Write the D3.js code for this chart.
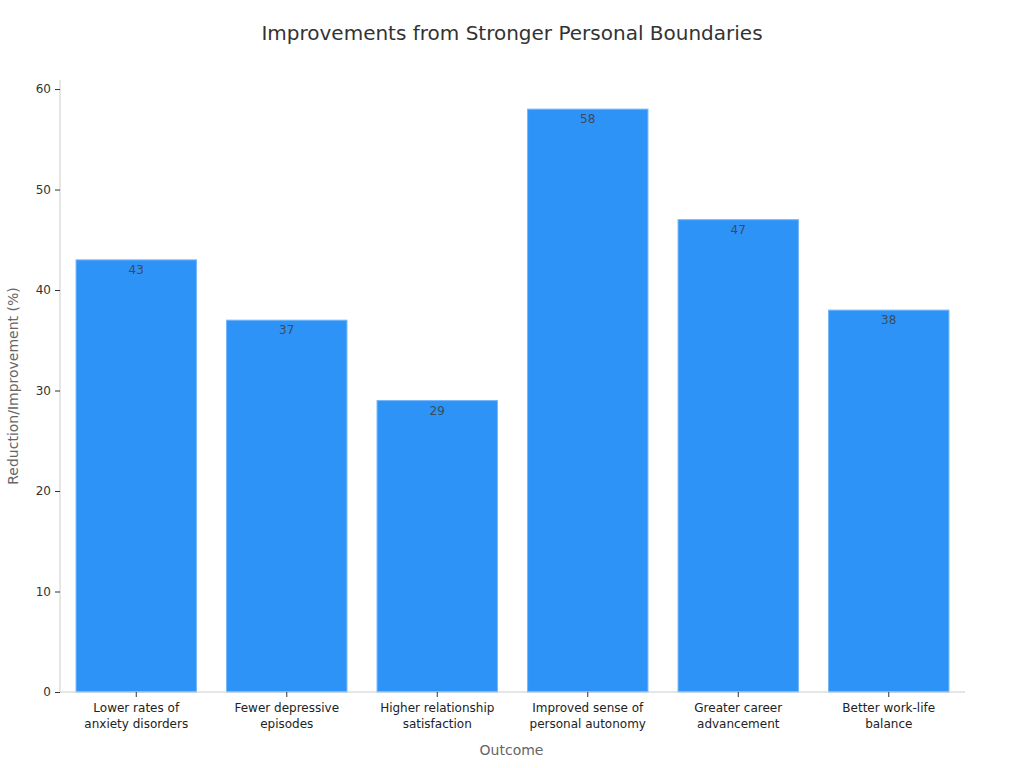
<!DOCTYPE html>
<html>
<head>
<meta charset="utf-8">
<script src="https://cdn.jsdelivr.net/npm/d3@7"></script>
<style>
body{margin:0;background:#fff;font-family:"DejaVu Sans",sans-serif;}
</style>
</head>
<body>
<svg id="chart"></svg>
<script>
const categories = [
    ["Lower rates of","anxiety disorders"],
    ["Fewer depressive","episodes"],
    ["Higher relationship","satisfaction"],
    ["Improved sense of","personal autonomy"],
    ["Greater career","advancement"],
    ["Better work-life","balance"]
];
const values = [43,37,29,58,47,38];
const yticks = [0,10,20,30,40,50,60];

const width = 1024, height = 768;
const margin = {top:80,right:61,bottom:76,left:60};
const inner_width = width-margin.left-margin.right;
const inner_height = height-margin.top-margin.bottom;

const svg = d3.select("#chart").attr("width",width).attr("height",height);

svg.append("text")
    .attr("x",512).attr("y",40)
    .attr("text-anchor","middle")
    .attr("font-size",20)
    .attr("fill","#333")
    .text("Improvements from Stronger Personal Boundaries");

const chart = svg.append("g")
    .attr("transform",`translate(${margin.left},${margin.top})`);

const keys = categories.map(c=>c.join(" "));
const xscale = d3.scaleBand().domain(keys).range([1,inner_width+1])
    .paddingInner(0.2).paddingOuter(0.1);
const yscale = d3.scaleLinear().domain([0,d3.max(values)*1.05]).range([inner_height,0]);

// bars
chart.selectAll("rect.bar")
    .data(values)
    .enter().append("rect")
    .attr("class","bar")
    .attr("x",(d,i)=>xscale(keys[i]))
    .attr("y",d=>yscale(d))
    .attr("width",xscale.bandwidth())
    .attr("height",d=>inner_height-yscale(d))
    .attr("fill","#2e93f7")
    .attr("stroke","#74b6f7")
    .attr("stroke-width",1);

chart.selectAll("text.val")
    .data(values)
    .enter().append("text")
    .attr("x",(d,i)=>xscale(keys[i])+xscale.bandwidth()/2)
    .attr("y",d=>yscale(d)+14)
    .attr("text-anchor","middle")
    .attr("font-size",12)
    .attr("fill","#3d4b5c")
    .text(d=>d);

// y axis
const yaxis_group = chart.append("g")
    .call(d3.axisLeft(yscale).tickValues(yticks).tickSize(5).tickPadding(4));
yaxis_group.select(".domain").attr("stroke","#ccc").attr("d",`M0,0V${inner_height}`);
yaxis_group.selectAll(".tick line").attr("stroke","#333");
yaxis_group.selectAll(".tick text").attr("font-size",12).attr("fill","#333")
    .attr("font-family","DejaVu Sans");

// x axis
const xaxis_group = chart.append("g")
    .attr("transform",`translate(0,${inner_height})`)
    .call(d3.axisBottom(xscale).tickSize(5).tickPadding(6));
xaxis_group.select(".domain").attr("stroke","#ccc").attr("d",`M0,0H${inner_width+2}`);
xaxis_group.selectAll(".tick line").attr("stroke","#333");
xaxis_group.selectAll(".tick text").remove();
xaxis_group.selectAll(".tick").each(function(d,i){
    const t = d3.select(this).append("text")
        .attr("fill","#222").attr("font-size",12)
        .attr("font-family","DejaVu Sans")
        .attr("text-anchor","middle");
    categories[i].forEach((line,j)=>{
        t.append("tspan").attr("x",0).attr("y",20+j*16).text(line);
    });
});

// labels
svg.append("text")
    .attr("x",margin.left+inner_width/2)
    .attr("y",755)
    .attr("text-anchor","middle")
    .attr("font-size",14)
    .attr("fill","#666")
    .text("Outcome");

svg.append("text")
    .attr("transform","rotate(-90)")
    .attr("x",-(margin.top+inner_height/2))
    .attr("y",18)
    .attr("text-anchor","middle")
    .attr("font-size",14)
    .attr("fill","#666")
    .text("Reduction/Improvement (%)");
</script>
</body>
</html>
